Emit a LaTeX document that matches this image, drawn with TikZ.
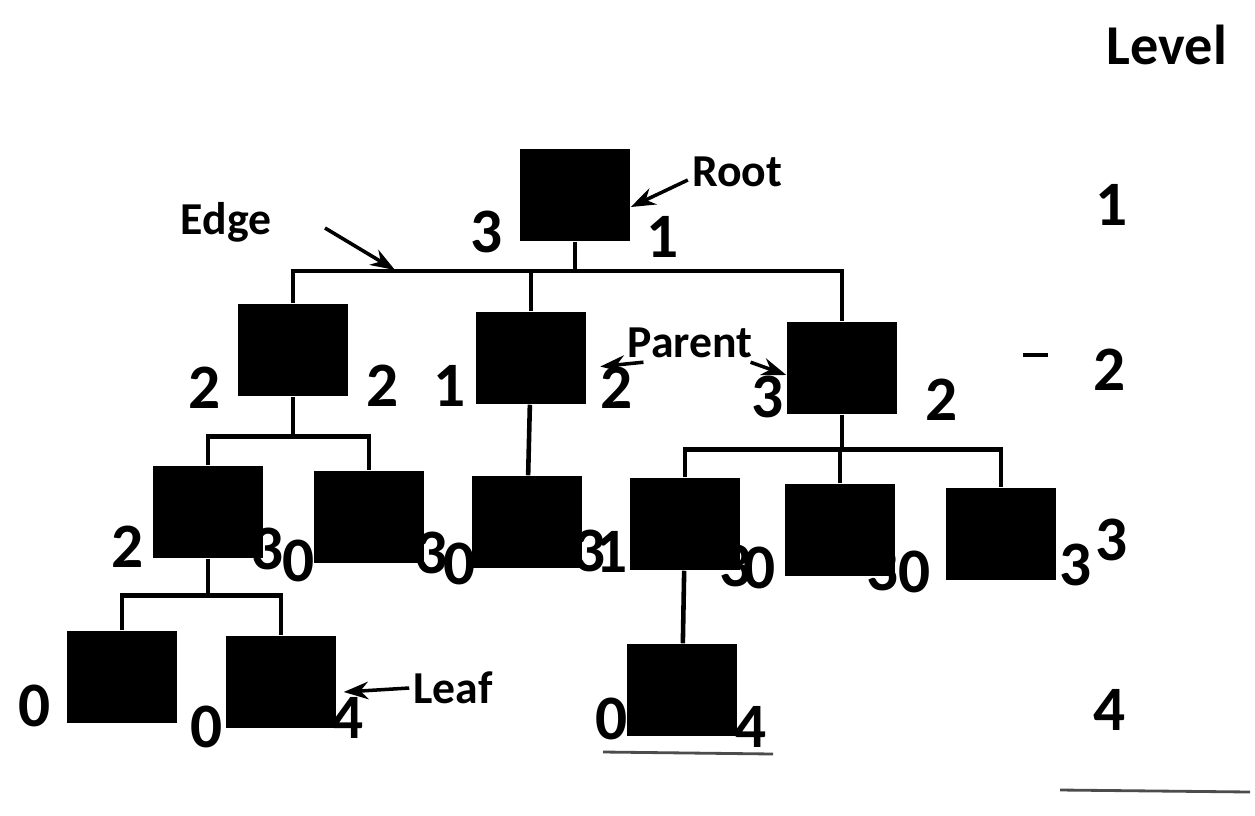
\documentclass[tikz,border=0pt]{standalone}
\usepackage{fontspec}
\setmainfont{Carlito}
\usetikzlibrary{arrows.meta}

\tikzset{
  sq/.style={fill=black, minimum width=1.1cm, minimum height=0.92cm, inner sep=0pt},
  num/.style={font=\fontsize{18}{21}\selectfont\bfseries, inner sep=0pt},
  note/.style={font=\fontsize{13}{15}\selectfont\bfseries, inner sep=1pt},
  link/.style={line width=1.3pt},
  pointer/.style={line width=1pt, -{Stealth[length=7pt,width=5pt]}},
}

\begin{document}
\begin{tikzpicture}[x=0.01cm, y=-0.01cm]
  \useasboundingbox (0,0) rectangle (1255,815);
  %\draw[help lines] (0,0) grid[xstep=100,ystep=100] (1255,815);
  % level 1
  \node[sq] (r) at (575,195) {};
  % level 2
  \node[sq] (a) at (293,350) {};
  \node[sq] (b) at (531,358) {};
  \node[sq] (c) at (842,368) {};
  % level 3
  \node[sq] (d) at (208,512) {};
  \node[sq] (e) at (369,517) {};
  \node[sq] (f) at (527,522) {};
  \node[sq] (g) at (685,524) {};
  \node[sq] (h) at (840,530) {};
  \node[sq] (i) at (1001,534) {};
  % level 4
  \node[sq] (j) at (122,677) {};
  \node[sq] (k) at (281,682) {};
  \node[sq] (l) at (682,690) {};

  \coordinate (rb) at (575,271);
  \draw[link] (r) -- (rb);
  \draw[link] (a) |- (rb) -| (c);
  \draw[link] (b) -- (b |- rb);
  \draw[link] (a.south) -- ++(0,40) coordinate (ab);
  \draw[link] (d) |- (ab) -| (e);
  \draw[link] (b) -- (f);
  \draw[link] (c.south) -- ++(0,35) coordinate (cb);
  \draw[link] (g) |- (cb) -| (i);
  \draw[link] (h) -- (h |- cb);
  \draw[link] (d.south) -- ++(0,37) coordinate (db);
  \draw[link] (j) |- (db) -| (k);
  \draw[link] (g) -- (l);

  \node[num] (r-l) at (487,232) {3};
  \node[num] (r-r) at (663,237) {1};
  \node[num] (a-l) at (205,388) {2};
  \node[num] (a-r) at (383,386) {2};
  \node[num] (b-l) at (450,386) {1};
  \node[num] (b-r) at (617,388) {2};
  \node[num] (c-l) at (768,397) {3};
  \node[num] (c-r) at (942,400) {2};
  \node[num] (d-l) at (128,547) {2};
  \node[num] (d-r) at (268,549) {3};
  \node[num] (e-l) at (299,561) {0};
  \node[num] (e-r) at (432,553) {3};
  \node[num] (f-l) at (460,564) {0};
  \node[num] (f-r) at (590,551) {3};
  \node[num] (g-l) at (612,552) {1};
  \node[num] (g-r) at (736,566) {3};
  \node[num] (h-l) at (760,568) {0};
  \node[num] (h-r) at (883,570) {3};
  \node[num] (i-l) at (915,572) {0};
  \node[num] (i-r) at (1076,565) {3};
  \node[num] (j-l) at (35,706) {0};
  \node[num] (k-l) at (207,727) {0};
  \node[num] (k-r) at (348,718) {4};
  \node[num] (l-l) at (612,719) {0};
  \node[num] (l-r) at (751,727) {4};

  \node[note] (rootlbl) at (737,172) {Root};
  \draw[pointer] ([yshift=-0.08cm]rootlbl.west) -- ([yshift=-0.12cm]r.east);
  \node[note] (edgelbl) at (226,222) {Edge};
  \coordinate (edgetail) at (325,228);
  \coordinate (edgetip) at (395,270);
  \draw[pointer] (edgetail) -- (edgetip);
  \node[note] (parlbl) at (690,343) {Parent};
  \draw[pointer] ([xshift=0.2cm]parlbl.south west) -- (b-r.north west);
  \draw[pointer] ([xshift=-0.06cm]parlbl.south east) -- ([yshift=-0.07cm]c.west);
  \node[note] (leaflbl) at (453,688) {Leaf};
  \draw[pointer] (leaflbl.west) -- ([xshift=0.07cm,yshift=-0.1cm]k.east);

  \node[num, font=\fontsize{16}{19}\selectfont\bfseries] (lv) at (1167,45) {Level};
  \node[num] (lv1) at (1112,205) {1};
  \node[num] (lv2) at (1110,370) {2};
  \node[num] (lv3) at (1112,540) {3};
  \node[num] (lv4) at (1110,710) {4};
  \draw[line width=1pt] ([xshift=-0.7cm,yshift=0.15cm]lv2.west) -- ([xshift=-0.45cm,yshift=0.15cm]lv2.west);
  \draw[line width=0.8pt, black!70] (1060,790) -- (1250,792);
  \draw[line width=0.8pt, black!70] (603,752) -- (773,754);
\end{tikzpicture}
\end{document}
